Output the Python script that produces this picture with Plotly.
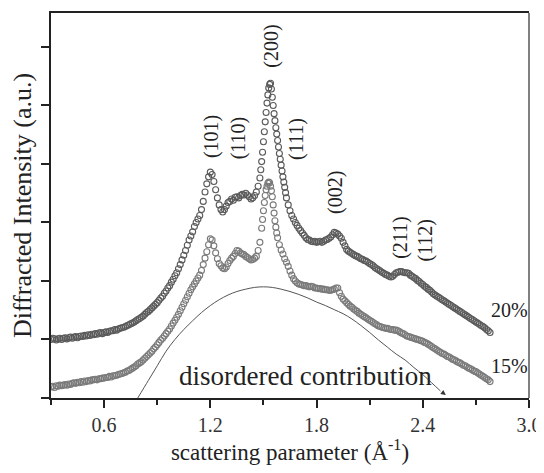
import plotly.graph_objects as go

# ---- data ----
# 20% sample: three segments of the same curve
x_20_a = [0.30,0.31,0.32,0.33,0.34,0.35,0.36,0.37,0.38,0.39,0.40,0.41,0.42,0.43,0.44,0.45,0.46,0.47,0.48,0.49,
          0.50,0.51,0.52,0.53,0.54,0.55,0.56,0.57,0.58,0.59,0.60,0.61,0.62,0.63,0.64,0.65,0.66,0.67,0.68,0.69,
          0.70,0.71,0.72,0.73,0.74,0.75,0.76,0.77,0.78,0.79,0.80,0.81,0.82,0.83,0.84,0.85,0.86,0.87,0.88,0.89,
          0.90,0.91,0.92,0.93,0.94,0.95,0.96,0.97,0.98,0.99,1.00,1.01,1.02,1.03,1.04,1.05,1.06,1.07,1.08,1.09]
y_20_a = [1.00,1.02,1.01,0.99,1.01,1.02,1.00,1.02,1.03,1.01,1.03,1.04,1.02,1.04,1.05,1.03,1.05,1.06,1.05,1.07,
          1.06,1.08,1.07,1.09,1.08,1.10,1.09,1.11,1.12,1.10,1.12,1.13,1.12,1.14,1.15,1.15,1.17,1.16,1.18,1.19,
          1.20,1.21,1.22,1.24,1.25,1.27,1.28,1.30,1.32,1.34,1.36,1.38,1.40,1.43,1.46,1.48,1.51,1.54,1.57,1.60,
          1.63,1.67,1.71,1.74,1.79,1.83,1.88,1.92,1.98,2.03,2.09,2.14,2.21,2.28,2.36,2.44,2.52,2.61,2.70,2.77]
x_20_b = [1.10,1.11,1.12,1.13,1.14,1.15,1.16,1.17,1.18,1.19,1.20,1.21,1.22,1.23,1.24,1.25,1.26,1.27,1.28,1.29,
          1.30,1.31,1.32,1.33,1.34,1.35,1.36,1.37,1.38,1.39,1.40,1.41,1.42,1.43,1.44,1.45,1.46,1.47,1.48,1.485,
          1.49,1.495,1.50,1.505,1.51,1.515,1.52,1.525,1.53,1.535,1.54,1.545,1.55,1.555,1.56,1.565,1.57,1.575,1.58,1.585,
          1.59,1.595,1.60,1.605,1.61,1.615,1.62,1.625,1.63,1.64,1.65,1.66,1.67,1.68,1.69,1.70]
y_20_b = [2.84,2.93,3.00,3.06,3.12,3.22,3.36,3.52,3.66,3.78,3.86,3.82,3.70,3.56,3.42,3.30,3.22,3.18,3.22,3.28,
          3.34,3.36,3.40,3.38,3.43,3.44,3.42,3.46,3.48,3.47,3.50,3.47,3.44,3.40,3.42,3.46,3.52,3.62,3.76,3.90,
          4.04,4.20,4.38,4.55,4.72,4.88,5.04,5.18,5.30,5.36,5.38,5.28,5.14,5.00,4.86,4.74,4.62,4.51,4.40,4.29,
          4.18,4.08,3.98,3.88,3.78,3.69,3.60,3.51,3.42,3.30,3.20,3.12,3.06,3.00,2.95,2.90]
x_20_c = [1.71,1.72,1.73,1.74,1.75,1.76,1.77,1.78,1.79,1.80,1.81,1.82,1.83,1.84,1.85,1.86,1.87,1.88,1.89,1.90,
          1.91,1.92,1.93,1.94,1.95,1.96,1.97,1.98,1.99,2.00,2.01,2.02,2.03,2.04,2.05,2.06,2.07,2.08,2.09,2.10,
          2.11,2.12,2.13,2.14,2.15,2.16,2.17,2.18,2.19,2.20,2.21,2.22,2.23,2.24,2.25,2.26,2.27,2.28,2.29,2.30,
          2.31,2.32,2.33,2.34,2.35,2.36,2.37,2.38,2.39,2.40,2.41,2.42,2.43,2.44,2.45,2.46,2.47,2.48,2.49,2.50,
          2.51,2.52,2.53,2.54,2.55,2.56,2.57,2.58,2.59,2.60,2.61,2.62,2.63,2.64,2.65,2.66,2.67,2.68,2.69,2.70,
          2.71,2.72,2.73,2.74,2.75,2.76,2.77,2.78]
y_20_c = [2.86,2.82,2.78,2.74,2.71,2.70,2.68,2.67,2.68,2.66,2.67,2.68,2.66,2.68,2.70,2.71,2.73,2.75,2.79,2.83,
          2.82,2.80,2.77,2.73,2.66,2.60,2.54,2.51,2.49,2.47,2.45,2.43,2.42,2.40,2.38,2.37,2.35,2.34,2.32,2.30,
          2.28,2.26,2.23,2.21,2.19,2.17,2.15,2.13,2.11,2.10,2.08,2.07,2.08,2.11,2.14,2.15,2.16,2.16,2.15,2.14,
          2.14,2.13,2.10,2.08,2.06,2.04,2.01,1.99,1.96,1.94,1.91,1.89,1.86,1.84,1.81,1.78,1.76,1.74,1.72,1.70,
          1.68,1.66,1.64,1.62,1.60,1.58,1.56,1.54,1.52,1.50,1.48,1.46,1.44,1.42,1.40,1.38,1.36,1.34,1.32,1.30,
          1.28,1.26,1.24,1.22,1.20,1.17,1.15,1.12]

# 15% sample
x_15_a = [0.30,0.31,0.32,0.33,0.34,0.35,0.36,0.37,0.38,0.39,0.40,0.41,0.42,0.43,0.44,0.45,0.46,0.47,0.48,0.49,
          0.50,0.51,0.52,0.53,0.54,0.55,0.56,0.57,0.58,0.59,0.60,0.61,0.62,0.63,0.64,0.65,0.66,0.67,0.68,0.69,
          0.70,0.71,0.72,0.73,0.74,0.75,0.76,0.77,0.78,0.79,0.80,0.81,0.82,0.83,0.84,0.85,0.86,0.87,0.88,0.89,
          0.90,0.91,0.92,0.93,0.94,0.95,0.96,0.97,0.98,0.99,1.00,1.01,1.02,1.03,1.04,1.05,1.06,1.07,1.08,1.09]
y_15_a = [0.19,0.20,0.18,0.21,0.20,0.22,0.21,0.22,0.23,0.22,0.24,0.23,0.25,0.26,0.25,0.27,0.26,0.28,0.27,0.29,
          0.28,0.30,0.29,0.31,0.31,0.32,0.31,0.33,0.33,0.34,0.34,0.35,0.35,0.37,0.36,0.38,0.38,0.39,0.40,0.41,
          0.42,0.43,0.44,0.46,0.47,0.49,0.51,0.53,0.55,0.58,0.60,0.62,0.65,0.68,0.71,0.74,0.77,0.80,0.84,0.87,
          0.91,0.95,0.99,1.02,1.06,1.10,1.14,1.18,1.23,1.28,1.33,1.38,1.43,1.49,1.55,1.61,1.67,1.73,1.79,1.85]
x_15_b = [1.10,1.11,1.12,1.13,1.14,1.15,1.16,1.17,1.18,1.19,1.20,1.21,1.22,1.23,1.24,1.25,1.26,1.27,1.28,1.29,
          1.30,1.31,1.32,1.33,1.34,1.35,1.36,1.37,1.38,1.39,1.40,1.41,1.42,1.43,1.44,1.45,1.46,1.47,1.48,1.49,
          1.495,1.50,1.505,1.51,1.515,1.52,1.525,1.53,1.535,1.54,1.545,1.55,1.555,1.56,1.565,1.57,1.575,1.58,1.59,1.60,
          1.61,1.62,1.63,1.64,1.65,1.66,1.67,1.68,1.69,1.70]
y_15_b = [1.90,1.95,2.00,2.05,2.10,2.18,2.28,2.39,2.50,2.62,2.72,2.70,2.60,2.48,2.38,2.30,2.26,2.22,2.21,2.24,
          2.30,2.35,2.39,2.42,2.47,2.52,2.51,2.48,2.46,2.45,2.42,2.40,2.38,2.36,2.37,2.39,2.42,2.52,2.66,2.90,
          3.05,3.20,3.34,3.46,3.56,3.62,3.67,3.69,3.68,3.62,3.54,3.44,3.30,3.16,3.03,2.92,2.82,2.74,2.62,2.53,
          2.46,2.38,2.32,2.25,2.17,2.10,2.04,2.00,1.97,1.95]
x_15_c = [1.71,1.72,1.73,1.74,1.75,1.76,1.77,1.78,1.79,1.80,1.81,1.82,1.83,1.84,1.85,1.86,1.87,1.88,1.89,1.90,
          1.91,1.92,1.93,1.94,1.95,1.96,1.97,1.98,1.99,2.00,2.01,2.02,2.03,2.04,2.05,2.06,2.07,2.08,2.09,2.10,
          2.11,2.12,2.13,2.14,2.15,2.16,2.17,2.18,2.19,2.20,2.21,2.22,2.23,2.24,2.25,2.26,2.27,2.28,2.29,2.30,
          2.31,2.32,2.33,2.34,2.35,2.36,2.37,2.38,2.39,2.40,2.41,2.42,2.43,2.44,2.45,2.46,2.47,2.48,2.49,2.50,
          2.51,2.52,2.53,2.54,2.55,2.56,2.57,2.58,2.59,2.60,2.61,2.62,2.63,2.64,2.65,2.66,2.67,2.68,2.69,2.70,
          2.71,2.72,2.73,2.74,2.75,2.76,2.77,2.78]
y_15_c = [1.94,1.93,1.92,1.92,1.91,1.90,1.91,1.90,1.88,1.88,1.87,1.87,1.86,1.86,1.85,1.85,1.84,1.84,1.85,1.86,
          1.88,1.88,1.80,1.74,1.69,1.66,1.63,1.60,1.57,1.55,1.52,1.50,1.48,1.45,1.43,1.41,1.39,1.37,1.35,1.33,
          1.31,1.29,1.27,1.25,1.23,1.22,1.21,1.20,1.19,1.19,1.18,1.17,1.17,1.16,1.16,1.15,1.13,1.11,1.10,1.08,
          1.06,1.05,1.04,1.03,1.02,1.01,1.00,0.99,0.98,0.97,0.95,0.94,0.92,0.90,0.88,0.86,0.84,0.82,0.80,0.78,
          0.76,0.75,0.73,0.71,0.70,0.68,0.66,0.65,0.63,0.61,0.60,0.58,0.56,0.55,0.53,0.51,0.50,0.48,0.46,0.45,
          0.43,0.41,0.39,0.37,0.35,0.33,0.31,0.28]

x_dis = [0.79,0.85,0.90,0.95,1.00,1.05,1.10,1.15,1.20,1.25,1.30,1.35,1.40,1.45,1.50,1.55,1.60,1.65,1.70,1.75,
         1.80,1.85,1.90,1.95,2.00,2.05,2.10,2.15,2.20,2.25,2.30,2.35,2.40,2.45,2.50]
y_dis = [0.00,0.30,0.55,0.80,1.00,1.17,1.32,1.46,1.58,1.68,1.76,1.82,1.86,1.89,1.90,1.89,1.86,1.82,1.77,1.71,
         1.64,1.58,1.51,1.44,1.35,1.24,1.12,0.99,0.87,0.75,0.65,0.52,0.40,0.26,0.12]
arrow_tip = (2.53, 0.05)

x_ticks = [0.6, 1.2, 1.8, 2.4, 3.0]
x_tick_labels = ["0.6", "1.2", "1.8", "2.4", "3.0"]
x_minor_ticks = [0.3, 0.9, 1.5, 2.1, 2.7]
y_ticks = [0, 1, 2, 3, 4, 5, 6]

peak_labels = ["(101)", "(110)", "(200)", "(111)", "(002)", "(211)", "(112)"]
peak_x = [1.204, 1.357, 1.548, 1.69, 1.904, 2.27, 2.41]
peak_y = [4.46, 4.44, 6.02, 4.43, 3.52, 2.75, 2.70]

FONT = "Liberation Serif"

x_20 = x_20_a + x_20_b + x_20_c
y_20 = y_20_a + y_20_b + y_20_c
x_15 = x_15_a + x_15_b + x_15_c
y_15 = y_15_a + y_15_b + y_15_c

fig = go.Figure()
fig.add_trace(go.Scatter(x=x_20, y=y_20, mode="markers",
                         marker=dict(symbol="circle-open", size=6, color="#5a5a5a", line=dict(width=1.1)),
                         showlegend=False))
fig.add_trace(go.Scatter(x=x_15, y=y_15, mode="markers",
                         marker=dict(symbol="circle-open", size=6, color="#7a7a7a", line=dict(width=1.1)),
                         showlegend=False))
fig.add_trace(go.Scatter(x=x_dis, y=y_dis, mode="lines", line=dict(color="#555555", width=1, shape="spline"),
                         showlegend=False))

# arrow at the end of the disordered contribution curve
fig.add_annotation(x=arrow_tip[0], y=arrow_tip[1], ax=x_dis[-1], ay=y_dis[-1], axref="x", ayref="y",
                   xref="x", yref="y", showarrow=True, arrowhead=2, arrowsize=1, arrowwidth=1,
                   arrowcolor="#333333", text="")

for t, px, py in zip(peak_labels, peak_x, peak_y):
    fig.add_annotation(x=px, y=py, text=t, textangle=-90, showarrow=False,
                       font=dict(family=FONT, size=20, color="#222222"))

fig.add_annotation(x=1.74, y=0.38, text="disordered contribution", showarrow=False,
                   font=dict(family=FONT, size=27, color="#222222"))
fig.add_annotation(x=2.774, y=1.50, text="20%", showarrow=False, xanchor="left",
                   font=dict(family=FONT, size=20, color="#222222"))
fig.add_annotation(x=2.774, y=0.55, text="15%", showarrow=False, xanchor="left",
                   font=dict(family=FONT, size=20, color="#222222"))

# right frame line (grey in the reference)
fig.add_shape(type="line", xref="paper", yref="paper", x0=1, x1=1, y0=0, y1=1,
              line=dict(color="#808080", width=2))

# the page body adds an 8px margin, so the figure is 8px smaller and margins shifted
fig.update_layout(
    width=536, height=465,
    margin=dict(l=43, r=15, t=5, b=75, autoexpand=False),
    paper_bgcolor="white", plot_bgcolor="white",
    font=dict(family=FONT, size=20, color="#222222"),
    xaxis=dict(range=[0.3, 3.0], tickvals=x_ticks, ticktext=x_tick_labels,
               ticks="outside", ticklen=8, tickwidth=1.5, tickcolor="#222",
               minor=dict(tickvals=x_minor_ticks, ticks="outside", ticklen=5, tickwidth=1.5, tickcolor="#222"),
               showline=True, linecolor="#222", linewidth=2, mirror=True,
               showgrid=False, zeroline=False, automargin=False,
               tickfont=dict(family=FONT, size=20, color="#333"),
               title=dict(text="scattering parameter (Å<sup>-1</sup>)", standoff=9,
                          font=dict(family=FONT, size=23, color="#222"))),
    yaxis=dict(range=[0, 6.58], tickvals=y_ticks, showticklabels=False,
               ticks="outside", ticklen=8, tickwidth=1.5, tickcolor="#222",
               showline=True, linecolor="#222", linewidth=2,
               showgrid=False, zeroline=False, automargin=False,
               title=dict(text="Diffracted Intensity (a.u.)", standoff=6,
                          font=dict(family=FONT, size=26, color="#222"))),
)

fig.write_html("out.html")
